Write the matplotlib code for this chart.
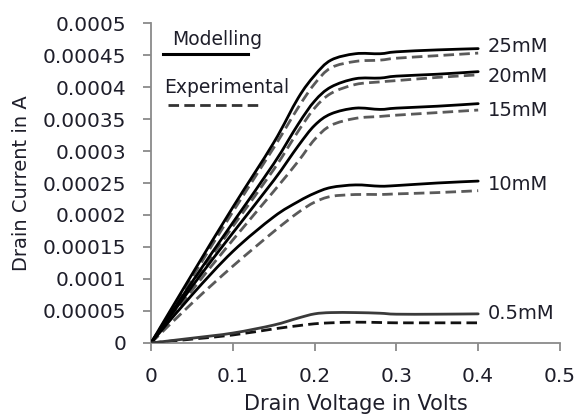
import matplotlib
matplotlib.use("Agg")
import matplotlib.pyplot as plt
from matplotlib.lines import Line2D
from matplotlib.path import Path
from matplotlib.patches import PathPatch

# ---- data ----
voltage = [0, 0.05, 0.1, 0.15, 0.18, 0.2, 0.22, 0.25, 0.28, 0.3, 0.35, 0.4]

model_25 = [0, 0.000107, 0.000212, 0.000313, 0.000383, 0.000418, 0.000442, 0.000452, 0.000452, 0.000455, 0.000458, 0.00046]
exp_25   = [0, 0.000102, 0.000205, 0.000305, 0.000368, 0.000405, 0.00043, 0.00044, 0.000442, 0.000445, 0.000449, 0.000453]
model_20 = [0, 0.000095, 0.000188, 0.00028, 0.000342, 0.000378, 0.0004, 0.000413, 0.000414, 0.000417, 0.00042, 0.000424]
exp_20   = [0, 0.000092, 0.000182, 0.000271, 0.000331, 0.000367, 0.00039, 0.000404, 0.000408, 0.00041, 0.000415, 0.000419]
model_15 = [0, 0.000088, 0.000172, 0.000254, 0.000308, 0.00034, 0.000358, 0.000367, 0.000365, 0.000367, 0.00037, 0.000374]
exp_15   = [0, 0.000082, 0.000161, 0.000237, 0.000284, 0.000318, 0.00034, 0.000351, 0.000354, 0.000356, 0.00036, 0.000364]
model_10 = [0, 0.000075, 0.000143, 0.000197, 0.000221, 0.000234, 0.000243, 0.000247, 0.000245, 0.000246, 0.00025, 0.000253]
exp_10   = [0, 0.000062, 0.00012, 0.000174, 0.000204, 0.00022, 0.000229, 0.000232, 0.000232, 0.000233, 0.000235, 0.000238]
model_05 = [0, 0.0000075, 0.0000155, 0.000028, 0.000039, 0.0000455, 0.0000475, 0.0000475, 0.0000465, 0.000045, 0.000045, 0.0000455]
exp_05   = [0, 0.000006, 0.0000125, 0.000022, 0.000027, 0.00003, 0.0000315, 0.0000325, 0.000032, 0.0000315, 0.0000315, 0.0000315]

curve_labels = ["25mM", "20mM", "15mM", "10mM", "0.5mM"]
label_y = [0.000463, 0.000416, 0.000364, 0.000247, 0.0000453]

x_ticks = [0, 0.1, 0.2, 0.3, 0.4, 0.5]
x_tick_labels = ["0", "0.1", "0.2", "0.3", "0.4", "0.5"]
y_ticks = [0, 0.00005, 0.0001, 0.00015, 0.0002, 0.00025, 0.0003, 0.00035, 0.0004, 0.00045, 0.0005]
y_tick_labels = ["0", "0.00005", "0.0001", "0.00015", "0.0002", "0.00025",
                 "0.0003", "0.00035", "0.0004", "0.00045", "0.0005"]

x_label = "Drain Voltage in Volts"
y_label = "Drain Current in A"
legend_labels = ["Modelling", "Experimental"]

# ---- figure ----
fig = plt.figure(figsize=(5.77, 4.17), dpi=100)
ax = fig.add_axes([0.2617, 0.1775, 0.7088, 0.7673])

text_color = "#1e1e2a"
axis_color = "#8a8a8a"
font = "DejaVu Sans"
dash = (0, (3.8, 1.9))


def smooth_path(xs, ys):
    """Smoothed line through the data points (Catmull-Rom as cubic Bezier segments)."""
    pts = list(zip(xs, ys))
    verts = [pts[0]]
    codes = [Path.MOVETO]
    n = len(pts)
    for i in range(n - 1):
        p0 = pts[i - 1] if i > 0 else pts[i]
        p1 = pts[i]
        p2 = pts[i + 1]
        p3 = pts[i + 2] if i + 2 < n else pts[i + 1]
        c1 = (p1[0] + (p2[0] - p0[0]) / 6.0, p1[1] + (p2[1] - p0[1]) / 6.0)
        c2 = (p2[0] - (p3[0] - p1[0]) / 6.0, p2[1] - (p3[1] - p1[1]) / 6.0)
        verts += [c1, c2, p2]
        codes += [Path.CURVE4] * 3
    return Path(verts, codes)


model_series = [model_25, model_20, model_15, model_10, model_05]
exp_series = [exp_25, exp_20, exp_15, exp_10, exp_05]
model_colors = ["#000000", "#000000", "#000000", "#000000", "#3a3a3a"]
exp_colors = ["#5a5a5a", "#5a5a5a", "#5a5a5a", "#5a5a5a", "#111111"]

for m, e, mc, ec in zip(model_series, exp_series, model_colors, exp_colors):
    ax.add_patch(PathPatch(smooth_path(voltage, e), fill=False, edgecolor=ec, lw=2.0,
                           linestyle=dash, capstyle="butt", zorder=2))
    ax.add_patch(PathPatch(smooth_path(voltage, m), fill=False, edgecolor=mc, lw=2.0,
                           capstyle="round", zorder=3))

for lab, yy in zip(curve_labels, label_y):
    ax.text(0.412, yy, lab, fontsize=14, family=font, color=text_color,
            va="center", ha="left", clip_on=False)

ax.set_xlim(0, 0.5)
ax.set_ylim(0, 0.0005)
ax.set_xticks(x_ticks)
ax.set_xticklabels(x_tick_labels)
ax.set_yticks(y_ticks)
ax.set_yticklabels(y_tick_labels)

for s in ["top", "right"]:
    ax.spines[s].set_visible(False)
for s in ["left", "bottom"]:
    ax.spines[s].set_color(axis_color)
    ax.spines[s].set_linewidth(1.3)

ax.tick_params(axis="both", direction="out", length=6, width=1.3, color=axis_color,
               labelsize=14.5, labelcolor=text_color)
ax.tick_params(axis="y", pad=12)
ax.tick_params(axis="x", pad=11)
for t in ax.get_xticklabels() + ax.get_yticklabels():
    t.set_family(font)

ax.set_xlabel(x_label, fontsize=15, family=font, color=text_color, labelpad=6)
ax.set_ylabel(y_label, fontsize=14, family=font, color=text_color, labelpad=8)

# legend (labels above their line samples)
tr = ax.transAxes
ax.text(0.161, 0.947, legend_labels[0], transform=tr, fontsize=13.5, family=font,
        color=text_color, ha="center", va="center")
ax.add_line(Line2D([0.029, 0.237], [0.903, 0.903], transform=tr, color="#000000", lw=2.2))
ax.text(0.186, 0.797, legend_labels[1], transform=tr, fontsize=13.5, family=font,
        color=text_color, ha="center", va="center")
ax.add_line(Line2D([0.042, 0.274], [0.744, 0.744], transform=tr, color="#333333", lw=2.0,
                   linestyle=dash))

fig.savefig("out.png", dpi=100)
